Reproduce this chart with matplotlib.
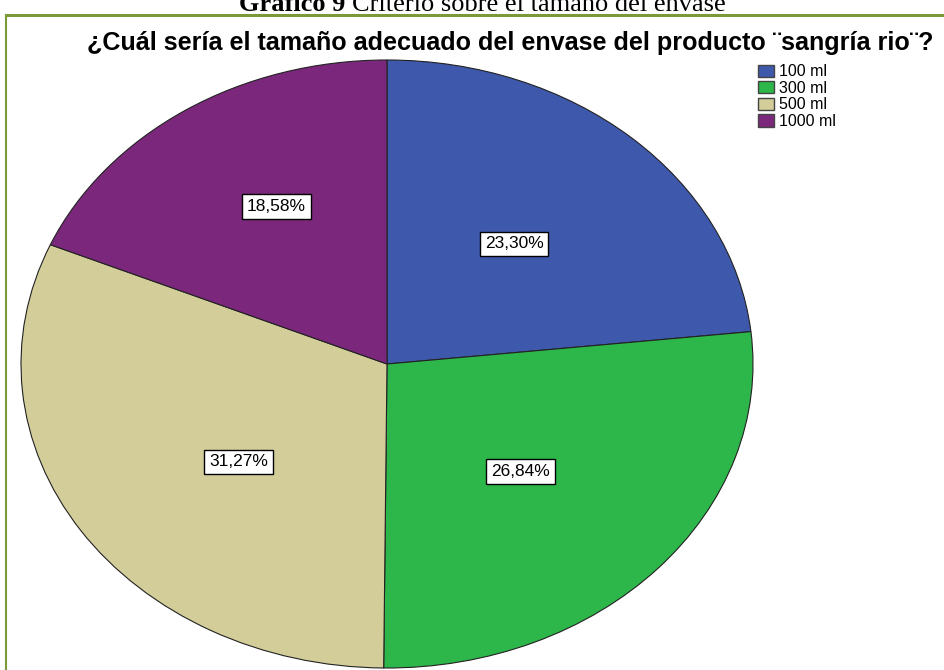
import numpy as np
import matplotlib
matplotlib.use('Agg')
import matplotlib.pyplot as plt
from matplotlib.patches import Patch

# Datos del gráfico
categorias = ['100 ml', '300 ml', '500 ml', '1000 ml']
porcentajes = [23.30, 26.84, 31.27, 18.58]
colores = ['#3E58AC', '#2DB64A', '#D3CE99', '#7B287C']
titulo = '¿Cuál sería el tamaño adecuado del envase del producto ¨sangría rio¨?'
# colocación de cada etiqueta (distancia radial y giro en grados), como en el original
radios_etiqueta = [0.526, 0.508, 0.518, 0.600]
giros_etiqueta = [0.6, -1.9, 5.2, -3.2]

plt.rcParams['font.family'] = ['Liberation Sans', 'DejaVu Sans']

fig = plt.figure(figsize=(9.44, 6.7), dpi=100)
fig.patch.set_facecolor('white')

# Marco verde (solo arriba e izquierda visibles)
fig.add_artist(plt.Line2D([6/944, 1.0], [1 - 15/670, 1 - 15/670], color='#7A9A3A', lw=2.2))
fig.add_artist(plt.Line2D([6/944, 6/944], [0, 1 - 15/670], color='#7A9A3A', lw=1.5))

# Leyenda del documento, cortada arriba como en el original
r = fig.canvas.get_renderer()
t1 = fig.text(239/944, 1 - 11/670, 'Gráfico 9 ', family='Liberation Serif', fontweight='bold',
              fontsize=19, ha='left', va='baseline')
bb = t1.get_window_extent(renderer=r)
fig.text(bb.x1/944, 1 - 11/670, 'Criterio sobre el tamaño del envase', family='Liberation Serif',
         fontsize=19, ha='left', va='baseline')

fig.text(510/944, 1 - 43/670, titulo, fontsize=18.1, fontweight='bold', ha='center', va='center')

ax = fig.add_axes([21/944, 2/670, 732/944, 608/670])


def fmt(p):
    return f'{p:.2f}%'.replace('.', ',')


wedges, textos, autotextos = ax.pie(porcentajes, colors=colores, startangle=90, counterclock=False,
                                    autopct=fmt, pctdistance=0.54,
                                    wedgeprops=dict(edgecolor='#222222', linewidth=0.8))
for w, t, rad, giro in zip(wedges, autotextos, radios_etiqueta, giros_etiqueta):
    ang = np.deg2rad((w.theta1 + w.theta2) / 2 + giro)
    t.set_position((rad * np.cos(ang), rad * np.sin(ang)))
    t.set_fontsize(12.5)
    t.set_bbox(dict(boxstyle='square,pad=0.27', facecolor='white', edgecolor='black', linewidth=1))

ax.set_aspect('auto')
ax.set_xlim(-1, 1)
ax.set_ylim(-1, 1)
ax.axis('off')

manijas = [Patch(facecolor=c, edgecolor='#444444', label=l) for c, l in zip(colores, categorias)]
fig.legend(handles=manijas, loc='upper left', bbox_to_anchor=(747/944, 1 - 53/670), frameon=False,
           fontsize=11.5, handlelength=1.0, handleheight=0.8, handletextpad=0.3, labelspacing=0.1,
           borderpad=0.2)

fig.savefig('out.png', dpi=100)
